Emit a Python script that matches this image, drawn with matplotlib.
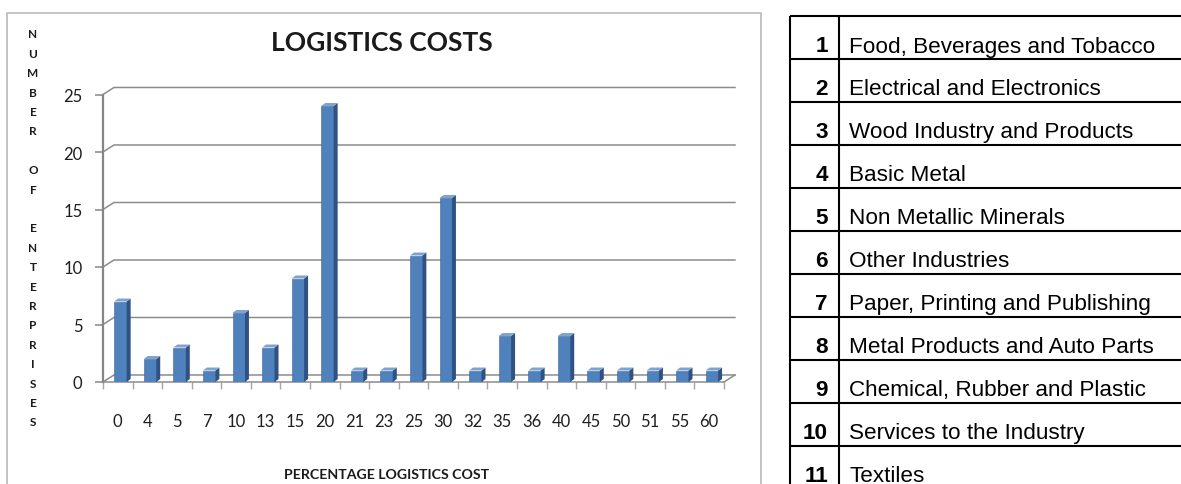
import matplotlib
matplotlib.use("Agg")
import matplotlib.pyplot as plt
import numpy as np
from matplotlib.patches import Polygon

# percentage logistics cost classes and number of enterprises in each
cost_labels = ["0", "4", "5", "7", "10", "13", "15", "20", "21", "23", "25",
               "30", "32", "35", "36", "40", "45", "50", "51", "55", "60"]
enterprises = [7, 2, 3, 1, 6, 3, 9, 24, 1, 1, 11, 16, 1, 4, 1, 4, 1, 1, 1, 1, 1]
y_ticks = [0, 5, 10, 15, 20, 25]

# industry sector key shown beside the chart
sector_ids = ["1", "2", "3", "4", "5", "6", "7", "8", "9", "10", "11"]
sector_names = ["Food, Beverages and Tobacco", "Electrical and Electronics",
                "Wood Industry and Products", "Basic Metal",
                "Non Metallic Minerals", "Other Industries",
                "Paper, Printing and Publishing", "Metal Products and Auto Parts",
                "Chemical, Rubber and Plastic", "Services to the Industry",
                "Textiles"]

W, H = 1181, 485
FRONT = "#4F81BD"
SIDE = "#2F5283"
TOP = "#7FA3D1"
GRID = "#8C8C8C"
TEXT = "#1f1f1f"

fig = plt.figure(figsize=(W / 100, H / 100), dpi=100)

# full-figure layer in pixel units for frame, titles and the key table
deco = fig.add_axes([0, 0, 1, 1], zorder=0)
deco.set_xlim(0, W)
deco.set_ylim(H, 0)
deco.axis("off")

# chart frame (open at the bottom edge)
deco.plot([7, 7, 761, 761], [H + 5, 14, 14, H + 5], color="#BFBFBF", lw=1.3)

deco.text(382, 43, "LOGISTICS COSTS", ha="center", va="center",
          fontsize=19, fontweight="bold", family="Lato", color="#1a1a1a")
deco.text(387, 475, "PERCENTAGE LOGISTICS COST", ha="center", va="center",
          fontsize=10.2, fontweight="bold", family="Lato", color="#1a1a1a")
for k, ch in enumerate("NUMBER OF ENTERPRISES"):
    deco.text(33, 35 + 19.4 * k, ch, ha="center", va="center",
              fontsize=8.5, fontweight="bold", family="Lato", color="#1a1a1a")

# key table
tx0, tx1, tx2 = 790, 839, W + 10
row_top, row_h = 17, 42.95
n_rows = len(sector_ids)
for k in range(n_rows + 1):
    y = row_top + row_h * k
    deco.plot([tx0, tx2], [y, y], color="black", lw=1.5, solid_capstyle="butt")
for x in (tx0, tx1):
    deco.plot([x, x], [row_top, row_top + row_h * n_rows], color="black",
              lw=1.5, solid_capstyle="butt")
for k, (sid, name) in enumerate(zip(sector_ids, sector_names)):
    yb = row_top + row_h * k + 35.5
    deco.text(828, yb, sid, ha="right", va="baseline", fontsize=16.2,
              fontweight="bold", family="Liberation Sans", color="black")
    deco.text(849, yb, name, ha="left", va="baseline", fontsize=16.2,
              family="Liberation Sans", color="black")

# bar chart drawn with a pseudo-3D back wall and floor
ax = fig.add_axes([103 / W, (H - 383) / H, 621 / W, 287.5 / H], zorder=1)
ax.patch.set_visible(False)
n = len(enterprises)
ax.set_xlim(0, n)
ax.set_ylim(0, 25)

dx, dy = 0.372, 0.61      # depth of the back wall
for v in y_ticks:
    ax.plot([0, dx, n + dx], [v, v + dy, v + dy], color=GRID, lw=1.1,
            clip_on=False, zorder=1)
ax.plot([n, n + dx], [0, dy], color=GRID, lw=1.1, clip_on=False, zorder=1)

x = np.arange(n)
bw = 0.42
left = x + 0.38
ax.bar(left, enterprises, width=bw, align="edge", color=FRONT,
       edgecolor="#3A6699", linewidth=0.4, zorder=3)
sdx, sdy = 0.135, 0.26    # bar depth
for l, v in zip(left, enterprises):
    r = l + bw
    ax.add_patch(Polygon([(r, 0), (r + sdx, sdy), (r + sdx, v + sdy), (r, v)],
                         closed=True, facecolor=SIDE, edgecolor="none", zorder=3))
    ax.add_patch(Polygon([(l, v), (l + sdx, v + sdy), (r + sdx, v + sdy), (r, v)],
                         closed=True, facecolor=TOP, edgecolor="none", zorder=3))

for s in ("top", "right"):
    ax.spines[s].set_visible(False)
ax.spines["left"].set_color("#868686")
ax.spines["left"].set_linewidth(1.6)
ax.spines["bottom"].set_color(GRID)
ax.spines["bottom"].set_linewidth(1.1)

ax.set_yticks(y_ticks)
ax.set_yticklabels([str(t) for t in y_ticks], family="Lato", fontsize=12,
                   color=TEXT)
ax.tick_params(axis="y", length=5.8, width=1.1, color="#868686", pad=9)

ax.set_xticks(x + 0.5)
ax.set_xticklabels(cost_labels, family="Lato", fontsize=12, color=TEXT)
ax.set_xticks(np.arange(n + 1), minor=True)
ax.tick_params(axis="x", which="major", length=0, pad=22)
ax.tick_params(axis="x", which="minor", length=5, width=1.0, color="#A6A6A6")

fig.savefig("out.png", dpi=100)
